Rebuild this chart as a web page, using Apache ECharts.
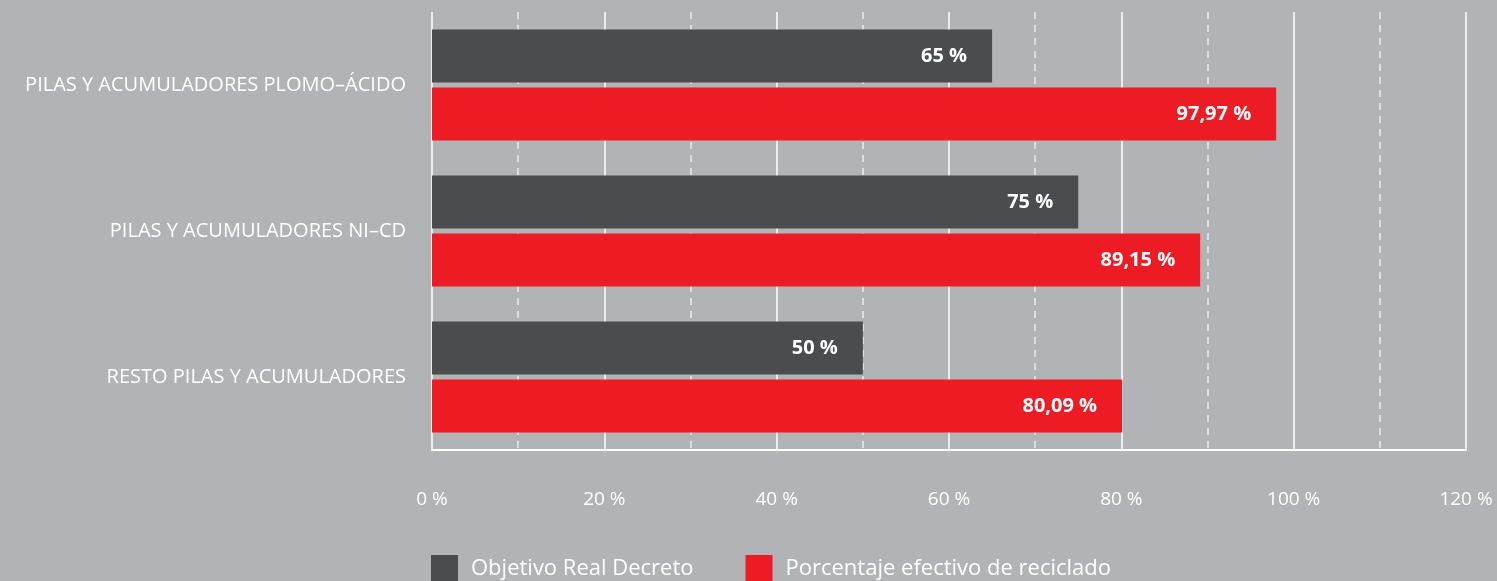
<!DOCTYPE html>
<html><head><meta charset="utf-8">
<script src="https://cdn.jsdelivr.net/npm/echarts@6/dist/echarts.min.js"></script>
<style>html,body{margin:0;padding:0;background:#b2b3b6;}#c{width:1497px;height:581px;}</style>
</head><body><div id="c"></div>
<script>
const categories = ['PILAS Y ACUMULADORES PLOMO–ÁCIDO', 'PILAS Y ACUMULADORES NI–CD', 'RESTO PILAS Y ACUMULADORES'];
const objetivo = [65, 75, 50];
const efectivo = [97.97, 89.15, 80.09];
const seriesNames = ['Objetivo Real Decreto', 'Porcentaje efectivo de reciclado'];
const xTicks = [0, 20, 40, 60, 80, 100, 120];

const fmt = v => String(v).replace('.', ',') + ' %';
const chart = echarts.init(document.getElementById('c'));
const lbl = {show: true, position: 'insideRight', distance: 25, color: '#fff', fontWeight: 'bold', fontSize: 20, fontFamily: 'Open Sans', formatter: p => fmt(p.value)};
chart.setOption({
  backgroundColor: '#b2b3b6',
  animation: false,
  grid: {left: 432, right: 31, top: 12, bottom: 131, containLabel: false},
  legend: {
    left: 431, top: 555, padding: 0, itemWidth: 27, itemHeight: 27, itemGap: 52, icon: 'rect',
    textStyle: {color: '#fff', fontSize: 22, fontFamily: 'Open Sans', padding: [0, 0, 0, 8]},
    data: seriesNames
  },
  xAxis: {
    type: 'value', min: xTicks[0], max: xTicks[xTicks.length - 1], interval: 20,
    axisLine: {show: true, lineStyle: {color: '#fff', width: 2}},
    axisTick: {show: false},
    axisLabel: {color: '#fff', fontSize: 19, fontFamily: 'Open Sans', margin: 40, formatter: v => v + ' %'},
    splitLine: {show: true, lineStyle: {color: '#fff', width: 1.5}},
    minorTick: {show: false, splitNumber: 2},
    minorSplitLine: {show: true, lineStyle: {color: 'rgba(255,255,255,0.75)', width: 1.5, type: [7, 6]}}
  },
  yAxis: {
    type: 'category', data: categories, inverse: true,
    axisLine: {show: false}, axisTick: {show: false},
    axisLabel: {color: '#fff', fontSize: 20, fontFamily: 'Open Sans', margin: 26}
  },
  series: [
    {name: seriesNames[0], type: 'bar', data: objetivo, itemStyle: {color: '#4b4c4e'}, barWidth: 53, barGap: '9.4%', label: lbl},
    {name: seriesNames[1], type: 'bar', data: efectivo, itemStyle: {color: '#ed1c24'}, barWidth: 53, barGap: '9.4%', label: lbl}
  ]
});
</script></body></html>
